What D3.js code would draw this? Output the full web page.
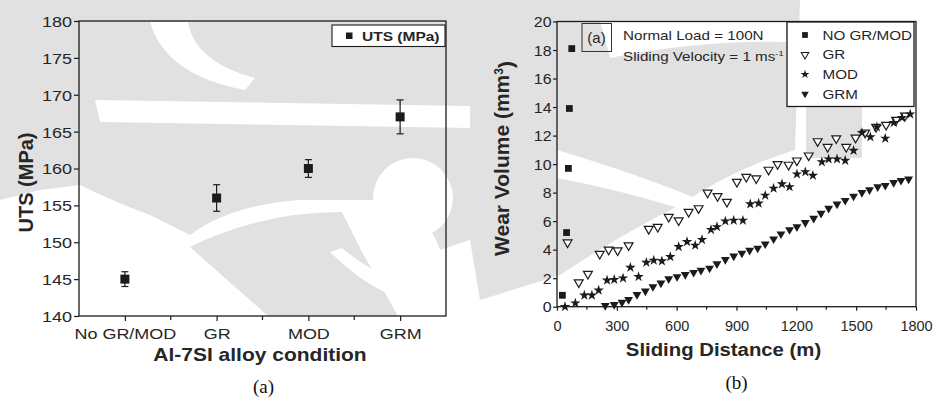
<!DOCTYPE html>
<html>
<head>
<meta charset="utf-8">
<script src="https://cdn.jsdelivr.net/npm/d3@7"></script>
<style>
  body { margin: 0; background: #fff; }
  svg { display: block; }
</style>
</head>
<body>
<svg id="fig" width="935" height="400"></svg>
<script>
// ---- Panel (a): ultimate tensile strength per alloy condition ----
const conditions = ["No GR/MOD", "GR", "MOD", "GRM"];
const utsMean = [145, 156, 160, 167];
const utsErr = [1.0, 1.8, 1.2, 2.3];
const utsTicks = [140, 145, 150, 155, 160, 165, 170, 175, 180];

// ---- Panel (b): cumulative wear volume vs sliding distance ----
const noGrModDist = [27, 48, 57, 62, 74];
const noGrModVol = [0.8, 5.2, 9.7, 13.9, 18.1];

const grDist = [53, 109, 155, 214, 259, 304, 359, 460, 505, 560, 610, 660, 710, 755, 805, 852, 902, 949, 999,
  1061, 1106, 1161, 1203, 1262, 1307, 1357, 1400, 1450, 1497, 1545, 1600, 1650, 1700, 1745];
const grVol = [4.5, 1.7, 2.3, 3.7, 4.0, 3.95, 4.3, 5.45, 5.6, 6.3, 6.05, 6.65, 6.9, 8.0, 7.75, 7.35, 8.75, 9.1, 9.0,
  9.6, 10.0, 9.95, 10.25, 10.6, 11.6, 11.2, 11.8, 11.2, 11.85, 12.2, 12.6, 12.75, 13.1, 13.4];

const modDist = [40, 92, 137, 175, 209, 251, 287, 331, 368, 409, 448, 485, 526, 568, 610, 652, 693, 727, 772, 802,
  844, 886, 932, 969, 1011, 1044, 1086, 1128, 1166, 1203, 1245, 1283, 1328, 1362, 1404, 1445, 1487, 1529, 1571,
  1604, 1646, 1688, 1730, 1771];
const modVol = [0.0, 0.25, 0.8, 0.8, 1.15, 1.85, 1.9, 2.0, 2.75, 2.1, 3.1, 3.25, 3.2, 3.5, 4.2, 4.55, 4.3, 4.7, 5.4, 5.6,
  6.0, 6.05, 6.05, 7.2, 7.25, 7.8, 8.3, 8.6, 8.4, 9.3, 9.45, 9.2, 10.15, 10.35, 10.35, 10.25, 10.95, 12.2, 11.9,
  12.6, 11.8, 12.9, 13.25, 13.5];

const grmDist = [242, 287, 326, 359, 401, 443, 481, 521, 560, 602, 643, 685, 722, 765, 802, 844, 886, 927, 966, 1006,
  1044, 1086, 1123, 1166, 1203, 1245, 1287, 1324, 1362, 1404, 1445, 1487, 1529, 1567, 1608, 1646, 1688, 1725, 1763];
const grmVol = [0.08, 0.15, 0.3, 0.5, 0.85, 1.1, 1.4, 1.65, 1.95, 2.1, 2.25, 2.4, 2.55, 2.7, 3.0, 3.3, 3.55, 3.75, 3.95, 4.1,
  4.4, 4.75, 5.1, 5.4, 5.6, 5.9, 6.2, 6.55, 6.9, 7.2, 7.45, 7.75, 8.0, 8.2, 8.4, 8.5, 8.7, 8.85, 8.95];

const wearSeries = ["NO GR/MOD", "GR", "MOD", "GRM"];
const distTicks = [0, 300, 600, 900, 1200, 1500, 1800];
const distMinor = [150, 450, 750, 1050, 1350, 1650];
const volTicks = [0, 2, 4, 6, 8, 10, 12, 14, 16, 18, 20];

// ---- shared styling ----
const SANS = "'Liberation Sans', Arial, Helvetica, sans-serif";
const SERIF = "'Liberation Serif', 'Times New Roman', serif";
const INK = "#1b1b1b";
const TXT = "#262626";
const SHADE = "#e1e1e1";

const svg = d3.select("#fig");

// ---- faint background emblem behind both plots ----
const emblem = svg.append("g").attr("class", "emblem");
const shadeShapes = [
  "M0,0 H470 V240 L440,250 Q425,205 380,200 L300,200 Q230,205 190,235 L150,215 Q110,200 80,185 L40,190 L0,200 Z",
  "M190,247 Q260,212 342,212 L362,252 L398,316 L268,316 Z",
  "M470,0 H800 L795,150 Q730,170 680,205 Q620,235 560,275 L480,300 L470,240 Z",
  "M806,107 H862 V158 H806 Z"
];
const clearShapes = [
  "M95,100 L470,106 L470,128 L100,122 Z",
  "M150,22 Q165,75 245,90 L255,78 Q195,62 188,22 Z",
  "M342,248 Q410,305 470,272 L470,296 Q400,322 330,252 Z",
  "M600,21 H786 V42 Q700,40 610,58 Z",
  "M557,150 Q640,175 700,200 L690,212 Q630,192 557,178 Z"
];
emblem.selectAll(".shade").data(shadeShapes).join("path").attr("d", d => d).attr("fill", SHADE);
emblem.selectAll(".clear").data(clearShapes).join("path").attr("d", d => d).attr("fill", "#fff");
emblem.append("circle").attr("cx", 413).attr("cy", 198).attr("r", 40).attr("fill", "#fff");

// Text drawn with a slight horizontal widening, like the printed figure.
function label(parent, x, y, str, o = {}) {
  return parent.append("text")
    .attr("transform", `translate(${x},${y}) scale(${o.sx || 1},1)${o.rot ? ` rotate(${o.rot})` : ""}`)
    .attr("text-anchor", o.anchor || "start")
    .attr("font-family", o.family || SANS)
    .attr("font-size", o.size || 14)
    .attr("font-weight", o.weight || "normal")
    .attr("fill", TXT)
    .text(str);
}

function styleAxis(g, size, sx) {
  g.select(".domain").remove();
  g.selectAll(".tick line").attr("stroke", INK).attr("stroke-width", 1.2);
  g.selectAll(".tick text")
    .attr("font-family", SANS)
    .attr("font-size", size)
    .attr("fill", TXT)
    .attr("transform", `scale(${sx},1)`);
}

// ================= Panel (a) =================
const ax = d3.scaleLinear().domain([0.5, 4.5]).range([79, 446]);
const ay = d3.scaleLinear().domain([140, 180]).range([316, 21]);
const gA = svg.append("g");

const aYAxis = gA.append("g").attr("transform", `translate(${ax.range()[0]},0)`)
  .call(d3.axisLeft(ay).tickValues(utsTicks).tickSize(5));
styleAxis(aYAxis, 15, 1.2);
aYAxis.selectAll(".tick text").attr("x", -7 / 1.2).attr("dy", "0.36em");

const aXAxis = gA.append("g").attr("transform", `translate(0,${ay.range()[0]})`)
  .call(d3.axisBottom(ax).tickValues([1, 2, 3, 4]).tickFormat((d, i) => conditions[i]).tickSize(5));
styleAxis(aXAxis, 15, 1.2);
aXAxis.selectAll(".tick text").attr("y", 12).attr("dy", "0.71em");
gA.append("g").attr("transform", `translate(0,${ay.range()[0]})`)
  .selectAll("line").data([1.5, 2.5, 3.5]).join("line")
  .attr("x1", d => ax(d)).attr("x2", d => ax(d)).attr("y1", 0).attr("y2", 4)
  .attr("stroke", INK).attr("stroke-width", 1.2);

gA.append("rect")
  .attr("x", ax.range()[0]).attr("y", ay.range()[1])
  .attr("width", ax.range()[1] - ax.range()[0]).attr("height", ay.range()[0] - ay.range()[1])
  .attr("fill", "none").attr("stroke", INK).attr("stroke-width", 1.3);

// error bars with caps, then the square markers
const utsRows = conditions.map((c, i) => ({ i: i + 1, m: utsMean[i], e: utsErr[i] }));
const eb = gA.append("g").attr("stroke", INK).attr("stroke-width", 1.2);
eb.selectAll(".stem").data(utsRows).join("line")
  .attr("x1", d => ax(d.i)).attr("x2", d => ax(d.i))
  .attr("y1", d => ay(d.m - d.e)).attr("y2", d => ay(d.m + d.e));
eb.selectAll(".cap").data(utsRows.flatMap(d => [d.m - d.e, d.m + d.e].map(v => ({ i: d.i, v })))).join("line")
  .attr("x1", d => ax(d.i) - 3.5).attr("x2", d => ax(d.i) + 3.5)
  .attr("y1", d => ay(d.v)).attr("y2", d => ay(d.v));
gA.selectAll(".uts").data(utsRows).join("rect")
  .attr("x", d => ax(d.i) - 4.5).attr("y", d => ay(d.m) - 4.5)
  .attr("width", 9).attr("height", 9).attr("fill", INK);

// legend
const legA = gA.append("g");
legA.append("rect").attr("x", 332).attr("y", 25).attr("width", 113).attr("height", 21.5)
  .attr("fill", "#fff").attr("stroke", INK).attr("stroke-width", 1.1);
legA.append("rect").attr("x", 346).attr("y", 32.5).attr("width", 6.5).attr("height", 6.5).attr("fill", INK);
label(legA, 362, 40.5, "UTS (MPa)", { size: 13.5, weight: "bold", sx: 1.15 });

label(gA, 25.5, 182.5, "UTS (MPa)", { size: 20, weight: "bold", anchor: "middle", rot: -90 })
  .attr("dy", "0.35em");
label(gA, 260, 361, "Al-7SI alloy condition", { size: 17.5, weight: "bold", anchor: "middle", sx: 1.2 });
label(gA, 263.5, 393, "(a)", { size: 19, family: SERIF, anchor: "middle" }).attr("fill", "#111");

// ================= Panel (b) =================
const bx = d3.scaleLinear().domain([0, 1800]).range([557, 916]);
const by = d3.scaleLinear().domain([0, 20]).range([306.7, 21.5]);
const gB = svg.append("g");

const bYAxis = gB.append("g").attr("transform", `translate(${bx.range()[0]},0)`)
  .call(d3.axisLeft(by).tickValues(volTicks).tickSize(4));
styleAxis(bYAxis, 14.5, 1.1);
bYAxis.selectAll(".tick text").attr("x", -5.5 / 1.1).attr("dy", "0.36em");

const bXAxis = gB.append("g").attr("transform", `translate(0,${by.range()[0]})`)
  .call(d3.axisBottom(bx).tickValues(distTicks).tickFormat(d3.format("d")).tickSize(4));
styleAxis(bXAxis, 14.5, 1.0);
bXAxis.selectAll(".tick text").attr("y", 14).attr("dy", "0.71em");
gB.append("g").attr("transform", `translate(0,${by.range()[0]})`)
  .selectAll("line").data(distMinor).join("line")
  .attr("x1", d => bx(d)).attr("x2", d => bx(d)).attr("y1", 0).attr("y2", 3)
  .attr("stroke", INK).attr("stroke-width", 1.2);

gB.append("rect")
  .attr("x", bx.range()[0]).attr("y", by.range()[1])
  .attr("width", bx.range()[1] - bx.range()[0]).attr("height", by.range()[0] - by.range()[1])
  .attr("fill", "none").attr("stroke", INK).attr("stroke-width", 1.3);

// marker shapes
const sqPath = d3.symbol(d3.symbolSquare, 46)();
const triPath = d3.symbol(d3.symbolTriangle, 34)();
const starPath = d3.symbol(d3.symbolStar, 34)();
const markers = {
  "NO GR/MOD": { path: sqPath, fill: INK, stroke: "none", rot: 0 },
  "GR": { path: triPath, fill: "#fff", stroke: INK, rot: 180 },
  "MOD": { path: starPath, fill: INK, stroke: "none", rot: 0 },
  "GRM": { path: triPath, fill: INK, stroke: "none", rot: 180 }
};
const wearData = [
  [noGrModDist, noGrModVol], [grDist, grVol], [modDist, modVol], [grmDist, grmVol]
];

function drawMarker(sel, name) {
  const m = markers[name];
  sel.attr("d", m.path).attr("fill", m.fill)
    .attr("stroke", m.stroke).attr("stroke-width", m.stroke === "none" ? 0 : 1.2);
  return m;
}

wearSeries.forEach((name, k) => {
  const [xs, ys] = wearData[k];
  const m = markers[name];
  gB.append("g").selectAll("path").data(xs.map((d, i) => [d, ys[i]])).join("path")
    .call(s => drawMarker(s, name))
    .attr("transform", d => `translate(${bx(d[0])},${by(d[1])}) rotate(${m.rot})`);
});

// test conditions and panel tag
const tag = gB.append("g");
tag.append("rect").attr("x", 582).attr("y", 23.5).attr("width", 29.5).attr("height", 28)
  .attr("fill", "none").attr("stroke", "#333").attr("stroke-width", 1);
label(tag, 596.5, 42.5, "(a)", { size: 15, anchor: "middle" });
label(gB, 623, 40, "Normal Load = 100N", { size: 13, sx: 1.17 });
const vel = label(gB, 623, 60.5, "Sliding Velocity = 1 ms", { size: 13, sx: 1.17 });
vel.append("tspan").attr("dy", -5).attr("font-size", 8).text("-1");

// legend (opaque box)
const legB = gB.append("g");
legB.append("rect").attr("x", 787).attr("y", 22).attr("width", 127).attr("height", 84.5)
  .attr("fill", "#fff").attr("stroke", INK).attr("stroke-width", 1.3);
const rowY = d3.scalePoint().domain(wearSeries).range([35, 94]);
wearSeries.forEach(name => {
  const m = markers[name];
  legB.append("path").call(s => drawMarker(s, name))
    .attr("transform", `translate(805,${rowY(name)}) rotate(${m.rot}) scale(0.85)`);
  label(legB, 822.5, rowY(name) + 4.6, name, { size: 13, sx: 1.17 });
});

label(gB, 501.5, 158.5, "", { size: 21, weight: "bold", anchor: "middle", rot: -90 })
  .attr("dy", "0.35em")
  .call(t => {
    t.append("tspan").text("Wear Volume (mm");
    t.append("tspan").attr("dy", "-0.45em").attr("font-size", 12).text("3");
    t.append("tspan").attr("dy", "0.45em").text(")");
  });
label(gB, 723.5, 356, "Sliding Distance (m)", { size: 18, weight: "bold", anchor: "middle", sx: 1.13 });
label(gB, 736.5, 389, "(b)", { size: 19, family: SERIF, anchor: "middle" }).attr("fill", "#111");
</script>
</body>
</html>
